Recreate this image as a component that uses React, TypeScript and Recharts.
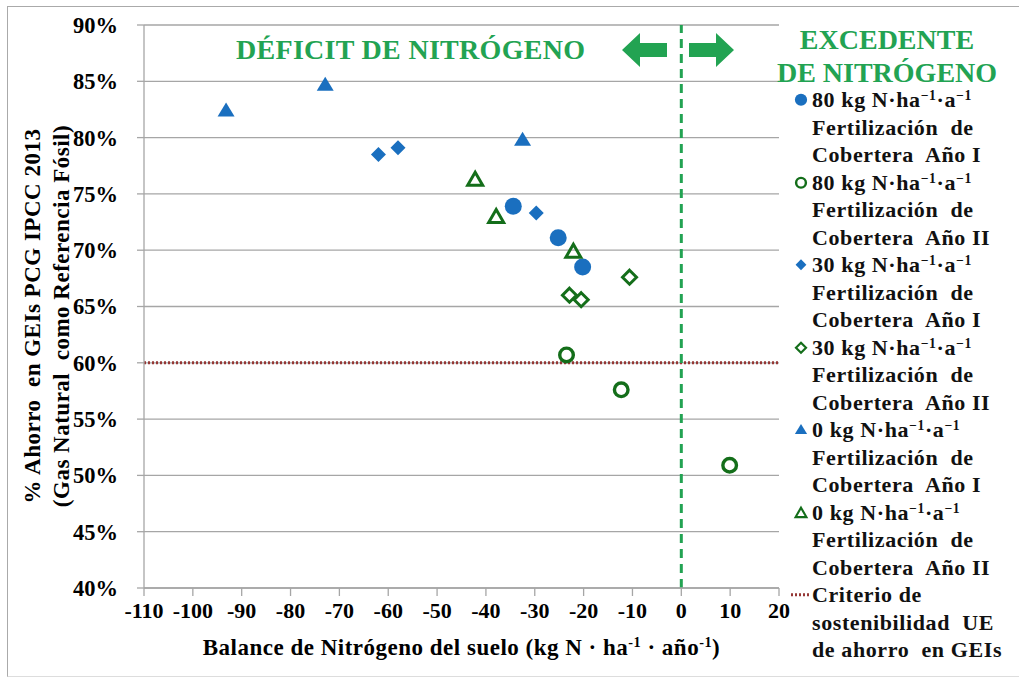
import React from 'react';
import { ScatterChart, Scatter, XAxis, YAxis, CartesianGrid, ReferenceLine } from 'recharts';

// Balance de N (kg N/ha/año) y % de ahorro en GEIs por tratamiento
const x80AnoI = [-34.4, -25.2, -20.2];
const y80AnoI = [73.9, 71.1, 68.5];
const x80AnoII = [-23.5, -12.3, 9.9];
const y80AnoII = [60.7, 57.6, 50.9];
const x30AnoI = [-62.0, -58.0, -29.7];
const y30AnoI = [78.5, 79.1, 73.3];
const x30AnoII = [-22.9, -20.5, -10.6];
const y30AnoII = [66.0, 65.6, 67.6];
const x0AnoI = [-93.2, -72.9, -32.5];
const y0AnoI = [82.4, 84.7, 79.8];
const x0AnoII = [-42.2, -37.9, -22.1];
const y0AnoII = [76.3, 73.0, 69.9];

const criterioUE = 60;
const xTicks = [-110, -100, -90, -80, -70, -60, -50, -40, -30, -20, -10, 0, 10, 20];
const yTicks = [40, 45, 50, 55, 60, 65, 70, 75, 80, 85, 90];

const BLUE = '#1a6fbf';
const DGREEN = '#146e1a';
const LGREEN = '#22a352';
const RED = '#953735';
const GRID = '#a6a6a6';
const FONT = '"Liberation Serif", "Times New Roman", serif';

const toPoints = (xs: number[], ys: number[]) => xs.map((x, i) => ({ x, y: ys[i] }));

type Kind = 'circle' | 'ocircle' | 'diamond' | 'odiamond' | 'triangle' | 'otriangle';

const Marker = ({ kind, cx, cy, s = 1 }: { kind: Kind; cx: number; cy: number; s?: number }) => {
  if (kind === 'circle') return <circle cx={cx} cy={cy} r={8.5 * s} fill={BLUE} />;
  if (kind === 'ocircle') return <circle cx={cx} cy={cy} r={6.8 * s} fill="none" stroke={DGREEN} strokeWidth={3.4 * s} />;
  if (kind === 'diamond') {
    const r = 7.5 * s;
    return <polygon points={`${cx},${cy - r} ${cx + r},${cy} ${cx},${cy + r} ${cx - r},${cy}`} fill={BLUE} />;
  }
  if (kind === 'odiamond') {
    const r = 7 * s;
    return <polygon points={`${cx},${cy - r} ${cx + r},${cy} ${cx},${cy + r} ${cx - r},${cy}`} fill="none" stroke={DGREEN} strokeWidth={3 * s} />;
  }
  if (kind === 'triangle') {
    const w = 8.5 * s;
    return <polygon points={`${cx},${cy - 8 * s} ${cx + w},${cy + 6 * s} ${cx - w},${cy + 6 * s}`} fill={BLUE} />;
  }
  const w = 7.5 * s;
  return <polygon points={`${cx},${cy - 7 * s} ${cx + w},${cy + 6 * s} ${cx - w},${cy + 6 * s}`} fill="none" stroke={DGREEN} strokeWidth={3 * s} strokeLinejoin="miter" />;
};

const shapeOf = (kind: Kind) => (props: any) => <Marker kind={kind} cx={props.cx} cy={props.cy} />;

const Sup = ({ children }: { children: React.ReactNode }) => (
  <span style={{ fontSize: '0.62em', verticalAlign: '0.55em', lineHeight: 0 }}>{children}</span>
);

const dose = (n: string) => (
  <>
    {n} kg N·ha<Sup>−1</Sup>·a<Sup>−1</Sup>
  </>
);

const legendItems: { kind: Kind | 'line'; lines: React.ReactNode[] }[] = [
  { kind: 'circle', lines: [dose('80'), 'Fertilización\u00a0 de', 'Cobertera\u00a0 Año I'] },
  { kind: 'ocircle', lines: [dose('80'), 'Fertilización\u00a0 de', 'Cobertera\u00a0 Año II'] },
  { kind: 'diamond', lines: [dose('30'), 'Fertilización\u00a0 de', 'Cobertera\u00a0 Año I'] },
  { kind: 'odiamond', lines: [dose('30'), 'Fertilización\u00a0 de', 'Cobertera\u00a0 Año II'] },
  { kind: 'triangle', lines: [dose('0'), 'Fertilización\u00a0 de', 'Cobertera\u00a0 Año I'] },
  { kind: 'otriangle', lines: [dose('0'), 'Fertilización\u00a0 de', 'Cobertera\u00a0 Año II'] },
  { kind: 'line', lines: ['Criterio de', 'sostenibilidad\u00a0 UE', 'de ahorro\u00a0 en GEIs'] },
];

const LINE_H = 27.5;

const Legend = () => (
  <div style={{ position: 'absolute', left: 790, top: 86, width: 229, fontFamily: FONT, fontWeight: 'bold', fontSize: 22, letterSpacing: 0.6, color: '#111' }}>
    {legendItems.map((it, i) => (
      <div key={i} style={{ position: 'relative', height: LINE_H * 3 }}>
        <svg width={22} height={LINE_H} style={{ position: 'absolute', left: 0, top: 0 }}>
          {it.kind === 'line' ? (
            <line x1={1} x2={21} y1={LINE_H / 2} y2={LINE_H / 2} stroke={RED} strokeWidth={3} strokeDasharray="2 2" />
          ) : (
            <Marker kind={it.kind} cx={11} cy={LINE_H / 2} s={0.72} />
          )}
        </svg>
        {it.lines.map((l, j) => (
          <div key={j} style={{ position: 'absolute', left: 22, top: j * LINE_H, height: LINE_H, lineHeight: `${LINE_H}px`, whiteSpace: 'nowrap' }}>
            {l}
          </div>
        ))}
      </div>
    ))}
  </div>
);

const Arrow = ({ left, dir }: { left: number; dir: 'l' | 'r' }) => (
  <svg width={46} height={36} style={{ position: 'absolute', left, top: 32 }}>
    {dir === 'l' ? (
      <polygon points="0,18 18,1 18,11 45,11 45,25 18,25 18,35" fill={LGREEN} />
    ) : (
      <polygon points="45,18 27,1 27,11 0,11 0,25 27,25 27,35" fill={LGREEN} />
    )}
  </svg>
);

export default function App() {
  return (
    <div style={{ position: 'absolute', left: 0, top: 0, width: 1019, height: 677, background: '#fff', overflow: 'hidden' }}>
      <div style={{ position: 'absolute', left: 7, top: 6, width: 1040, height: 669, borderTop: '1.5px solid #aaa', borderLeft: '1.5px solid #aaa', borderBottom: '1px solid #ddd' }} />
      <ScatterChart width={1019} height={677} margin={{ top: 25, right: 240, bottom: 0, left: 0 }} style={{ position: 'absolute', left: 0, top: 0 }}>
        <CartesianGrid horizontal vertical={false} stroke={GRID} strokeWidth={1.3} />
        <XAxis
          type="number"
          dataKey="x"
          domain={[-110, 20]}
          ticks={xTicks}
          height={89}
          tickSize={8}
          tickMargin={6}
          axisLine={{ stroke: GRID, strokeWidth: 1.3 }}
          tickLine={{ stroke: GRID, strokeWidth: 1.3 }}
          tick={{ fill: '#000', fontSize: 22, fontWeight: 'bold', fontFamily: FONT }}
          interval={0}
        />
        <YAxis
          type="number"
          dataKey="y"
          domain={[40, 90]}
          ticks={yTicks}
          width={144}
          tickSize={7}
          tickMargin={19}
          tickFormatter={(v: number) => `${v}%`}
          axisLine={{ stroke: GRID, strokeWidth: 1.3 }}
          tickLine={{ stroke: GRID, strokeWidth: 1.3 }}
          tick={{ fill: '#000', fontSize: 22.5, fontWeight: 'bold', fontFamily: FONT }}
          interval={0}
        />
        <ReferenceLine y={criterioUE} stroke={RED} strokeWidth={3} strokeDasharray="2 2" />
        <ReferenceLine x={0} stroke={LGREEN} strokeWidth={3} strokeDasharray="9 6" />
        <Scatter name="80 Año I" data={toPoints(x80AnoI, y80AnoI)} shape={shapeOf('circle')} isAnimationActive={false} />
        <Scatter name="80 Año II" data={toPoints(x80AnoII, y80AnoII)} shape={shapeOf('ocircle')} isAnimationActive={false} />
        <Scatter name="30 Año I" data={toPoints(x30AnoI, y30AnoI)} shape={shapeOf('diamond')} isAnimationActive={false} />
        <Scatter name="30 Año II" data={toPoints(x30AnoII, y30AnoII)} shape={shapeOf('odiamond')} isAnimationActive={false} />
        <Scatter name="0 Año I" data={toPoints(x0AnoI, y0AnoI)} shape={shapeOf('triangle')} isAnimationActive={false} />
        <Scatter name="0 Año II" data={toPoints(x0AnoII, y0AnoII)} shape={shapeOf('otriangle')} isAnimationActive={false} />
      </ScatterChart>

      {/* anotaciones */}
      <div style={{ position: 'absolute', left: 236, top: 33, fontFamily: FONT, fontWeight: 'bold', fontSize: 28, letterSpacing: 0.3, color: LGREEN, whiteSpace: 'nowrap', lineHeight: '34px' }}>
        DÉFICIT DE NITRÓGENO
      </div>
      <Arrow left={622} dir="l" />
      <Arrow left={689} dir="r" />
      <div style={{ position: 'absolute', left: 770, top: 23, width: 234, textAlign: 'center', fontFamily: FONT, fontWeight: 'bold', fontSize: 28, color: LGREEN, lineHeight: '33px', whiteSpace: 'nowrap' }}>
        EXCEDENTE
        <br />
        DE NITRÓGENO
      </div>

      <Legend />

      {/* títulos de ejes */}
      <div style={{ position: 'absolute', left: 144, top: 635, width: 635, textAlign: 'center', fontFamily: FONT, fontWeight: 'bold', fontSize: 23, letterSpacing: 0.5, whiteSpace: 'nowrap' }}>
        Balance de Nitrógeno del suelo (kg N · ha<Sup>-1</Sup> · año<Sup>-1</Sup>)
      </div>
      <div
        style={{
          position: 'absolute',
          left: 48 - 250,
          top: 316 - 30,
          width: 500,
          height: 60,
          transform: 'rotate(-90deg)',
          textAlign: 'center',
          fontFamily: FONT,
          fontWeight: 'bold',
          fontSize: 23,
          letterSpacing: 0.5,
          lineHeight: '29px',
          whiteSpace: 'nowrap',
        }}
      >
        % Ahorro&nbsp; en GEIs PCG IPCC 2013
        <br />
        (Gas Natural&nbsp; como Referencia Fósil)
      </div>
    </div>
  );
}
